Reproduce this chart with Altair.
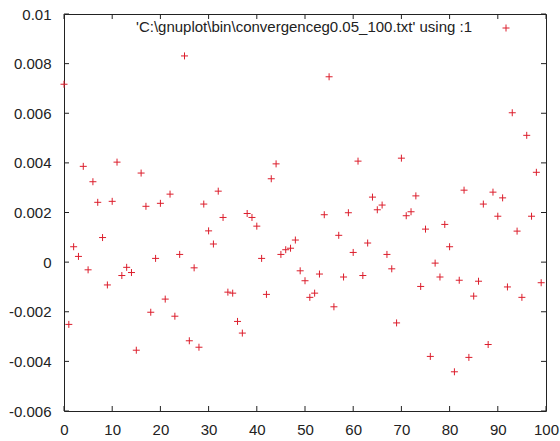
import altair as alt
import pandas as pd

# ---- data ----
x_index = list(range(100))
values = [
    0.00717, -0.00251, 0.00062, 0.00023, 0.00386, -0.00031, 0.00324, 0.00241, 0.00099, -0.00092,
    0.00245, 0.00403, -0.00054, -0.00021, -0.00042, -0.00355, 0.00359, 0.00225, -0.00202, 0.00015,
    0.00237, -0.00149, 0.00274, -0.00218, 0.00031, 0.00831, -0.00317, -0.00023, -0.00343, 0.00234,
    0.00126, 0.00073, 0.00286, 0.00180, -0.00121, -0.00125, -0.00239, -0.00286, 0.00196, 0.00180,
    0.00145, 0.00015, -0.00130, 0.00336, 0.00396, 0.00031, 0.00050, 0.00056, 0.00089, -0.00035,
    -0.00075, -0.00142, -0.00125, -0.00048, 0.00191, 0.00747, -0.00180, 0.00108, -0.00060, 0.00199,
    0.00039, 0.00407, -0.00054, 0.00077, 0.00262, 0.00211, 0.00230, 0.00031, -0.00027, -0.00245,
    0.00419, 0.00187, 0.00203, 0.00267, -0.00098, 0.00133, -0.00380, -0.00004, -0.00060, 0.00152,
    0.00062, -0.00442, -0.00073, 0.00290, -0.00384, -0.00137, -0.00077, 0.00234, -0.00332, 0.00282,
    0.00185, 0.00259, -0.00100, 0.00602, 0.00125, -0.00142, 0.00511, 0.00185, 0.00362, -0.00083,
]
x_ticks = [0, 10, 20, 30, 40, 50, 60, 70, 80, 90, 100]
y_ticks = [-0.006, -0.004, -0.002, 0, 0.002, 0.004, 0.006, 0.008, 0.01]
series_label = [r"'C:\gnuplot\bin\convergenceg0.05_100.txt' using :1"]

# ---- styling ----
W, H = 482, 397
RED = "#dc1e2c"
AX = "#222222"
FONT = "Liberation Sans"
PLUS = "M-1,0L1,0M0,-1L0,1"

pts = pd.DataFrame({"x": x_index, "y": values})
xt = pd.DataFrame({"t": x_ticks})
yt = pd.DataFrame({"v": y_ticks})
leg = pd.DataFrame({"label": series_label})

xs = alt.Scale(domain=[0, 100], nice=False, zero=False)
ys = alt.Scale(domain=[-0.006, 0.01], nice=False, zero=False)

x_axis = alt.Axis(values=x_ticks, labelPadding=11, labelFlush=False, format="d", title=None)
y_axis = alt.Axis(values=y_ticks, labelPadding=13, labelFlush=False, title=None,
                  labelExpr="replace(format(datum.value, '~g'), '\u2212', '-')")

points = alt.Chart(pts).mark_point(
    shape=PLUS, size=49, filled=False, color=RED, strokeWidth=1, opacity=1
).encode(
    x=alt.X("x:Q", scale=xs, axis=x_axis),
    y=alt.Y("y:Q", scale=ys, axis=y_axis),
)

tick_bottom = alt.Chart(xt).mark_rule(color=AX, strokeWidth=1).encode(
    x=alt.X("t:Q", scale=xs, axis=x_axis), y=alt.value(H), y2=alt.value(H - 5))
tick_top = alt.Chart(xt).mark_rule(color=AX, strokeWidth=1).encode(
    x=alt.X("t:Q", scale=xs, axis=x_axis), y=alt.value(0), y2=alt.value(5))
tick_left = alt.Chart(yt).mark_rule(color=AX, strokeWidth=1).encode(
    y=alt.Y("v:Q", scale=ys, axis=y_axis), x=alt.value(0), x2=alt.value(5))
tick_right = alt.Chart(yt).mark_rule(color=AX, strokeWidth=1).encode(
    y=alt.Y("v:Q", scale=ys, axis=y_axis), x=alt.value(W), x2=alt.value(W - 5))

key_text = alt.Chart(leg).mark_text(
    align="right", baseline="middle", font=FONT, fontSize=15, color=AX
).encode(text="label:N", x=alt.value(408), y=alt.value(13))
key_sym = alt.Chart(leg).mark_point(
    shape=PLUS, size=49, filled=False, color=RED, strokeWidth=1, opacity=1
).encode(x=alt.value(442), y=alt.value(14))

chart = alt.layer(
    points, tick_bottom, tick_top, tick_left, tick_right, key_text, key_sym
).properties(
    width=W, height=H,
    autosize=alt.AutoSizeParams(type="none"),
    padding={"left": 64, "top": 14, "right": 14, "bottom": 30},
    background="white",
).configure_view(
    stroke=AX, strokeWidth=1
).configure_axis(
    domain=False, ticks=False, grid=False,
    labelFont=FONT, labelFontSize=15, labelColor=AX,
)

chart.save("out.html", embed_options={"renderer": "svg", "actions": False})
